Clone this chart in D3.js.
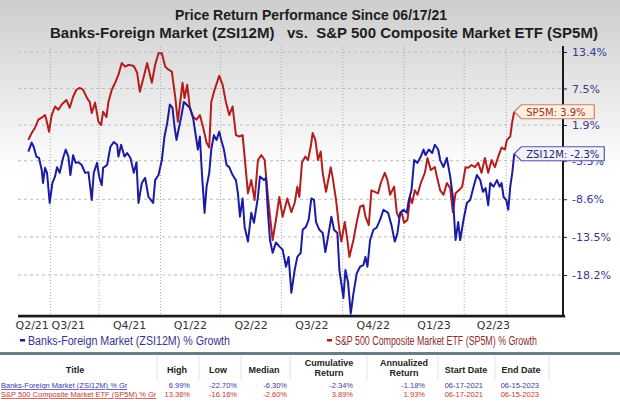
<!DOCTYPE html>
<html>
<head>
<meta charset="utf-8">
<script src="https://cdn.jsdelivr.net/npm/d3@7"></script>
<style>
  body { margin: 0; background: #fff; }
  svg { display: block; }
</style>
</head>
<body>
<div id="chart"></div>
<script>

// ---- data ----
var startDate = "2021-06-17";

// S&P 500 Composite Market ETF (SP5M): days since start, % growth
var spDays = [0,5,10,15,20,25,27,31,35,40,
  45,50,57,62,67,72,77,82,88,92,
  95,100,105,109,112,117,120,125,130,135,
  140,145,150,158,163,167,173,178,185,190,
  195,200,205,210,215,220,224,231,234,238,
  242,247,252,257,262,267,271,274,279,286,
  291,296,301,306,311,316,321,324,329,334,
  339,344,349,354,359,363,366,371,376,381,
  388,394,399,403,406,410,415,419,423,426,
  430,434,438,441,446,453,456,461,466,469,
  474,478,481,487,492,497,502,505,510,514,
  519,524,528,534,538,542,548,552,555,559,
  563,568,572,575,579,583,588,594,598,603,
  609,612,617,622,627,632,636,640,645,650,
  655,659,664,669,674,679,684,689,694,699,
  704,709,714,717,722,725,728];
var spValues = [-0.3,0.7,1.5,2.7,3.0,3.4,2.7,0.9,3.4,4.7,
  4.2,5.0,5.7,4.5,6.2,7.3,7.6,7.3,6.0,5.4,
  3.7,5.3,2.4,1.9,3.9,3.1,5.4,7.3,8.4,9.7,
  11.6,11.0,11.3,11.1,10.0,7.0,9.4,11.6,8.4,11.3,
  13.2,13.2,11.0,10.5,10.2,6.2,2.4,8.4,6.0,8.1,
  4.5,3.1,2.7,3.4,1.5,-0.7,-1.4,5.4,7.3,9.5,
  8.1,5.4,3.4,4.7,0.4,0.2,0.4,-2.7,-7.8,-6.0,
  -8.7,-3.2,-2.5,-3.2,-8.3,-11.6,-13.9,-11.3,-8.3,-10.9,
  -8.5,-10.3,-9.1,-6.9,-8.3,-3.5,-2.7,-3.2,-1.3,0.7,
  -0.3,-3.2,-2.0,-5.0,-7.6,-4.2,-5.7,-8.7,-12.6,-14.1,
  -11.6,-13.9,-16.0,-13.9,-11.6,-9.6,-9.4,-10.9,-12.0,-7.4,
  -7.6,-7.8,-6.4,-5.0,-6.0,-8.0,-6.9,-10.4,-11.0,-10.3,
  -11.7,-11.3,-8.3,-9.1,-7.4,-8.0,-6.4,-5.0,-2.9,-4.6,
  -4.2,-5.5,-7.4,-8.0,-6.4,-7.1,-10.3,-7.8,-7.4,-6.9,
  -4.2,-4.3,-3.9,-4.2,-3.6,-5.0,-2.9,-5.0,-3.2,-4.2,
  -2.7,-1.4,-1.7,-0.3,0.2,2.4,3.9];

// Banks-Foreign Market (ZSI12M): days since start, % growth
var zsDays = [0,5,8,12,16,20,22,25,28,32,
  36,40,43,47,52,56,60,63,67,71,
  75,80,85,90,95,98,103,106,110,112,
  118,123,128,133,135,139,144,148,153,158,
  162,165,170,175,180,187,190,195,200,204,
  208,212,216,219,222,225,229,233,237,242,
  247,251,254,257,260,264,267,271,274,278,
  282,286,289,293,297,301,306,311,314,317,
  321,324,329,334,338,344,347,353,356,359,
  362,366,371,376,381,386,390,394,399,403,
  408,411,416,420,424,428,431,436,441,445,
  449,454,458,463,466,472,475,479,483,487,
  492,497,502,505,508,512,517,522,527,532,
  539,544,549,553,557,562,567,570,574,578,
  583,588,592,595,600,605,609,614,617,622,
  627,632,636,640,644,647,652,657,662,667,
  672,677,681,685,689,692,697,702,706,709,
  712,716,719,722,725,728];
var zsValues = [-2.0,-0.7,-1.3,-2.7,-2.9,-4.6,-6.4,-4.3,-5.0,-9.1,
  -6.4,-5.5,-4.2,-5.0,-2.9,-1.7,-2.7,-5.3,-2.5,-3.6,
  -3.5,-3.9,-5.0,-4.9,-8.7,-5.0,-3.6,-5.5,-6.7,-4.3,
  -3.9,-1.3,-0.6,-1.0,-2.7,-1.0,-2.7,-2.2,-2.9,-5.0,
  -3.5,-9.1,-6.4,-5.7,-8.3,-9.1,-6.0,-5.3,-3.2,0.2,
  2.2,5.0,4.5,1.6,-0.3,1.2,3.1,5.4,5.0,4.5,
  2.9,0.2,-1.7,0.2,-5.0,-10.4,-6.9,-5.0,-1.7,0.4,
  -0.3,0.9,-0.3,-1.7,-3.9,-4.2,-5.3,-6.0,-7.8,-10.9,
  -8.5,-12.2,-14.1,-10.4,-11.7,-8.3,-5.5,-6.0,-5.7,-10.4,
  -13.9,-15.5,-14.2,-14.7,-15.1,-17.2,-16.0,-20.3,-17.6,-16.0,
  -15.5,-12.6,-12.2,-11.3,-8.5,-8.7,-11.6,-12.6,-13.0,-15.4,
  -13.5,-10.9,-12.6,-13.0,-17.6,-20.9,-17.6,-19.1,-22.7,-20.4,
  -18.0,-17.2,-17.0,-16.0,-17.2,-13.9,-12.6,-12.3,-11.3,-10.0,
  -10.4,-12.0,-14.1,-13.0,-10.4,-10.0,-10.4,-8.7,-7.4,-3.2,
  -3.6,-2.7,-1.7,-2.5,-1.7,-2.2,-1.0,-1.7,-3.2,-4.2,
  -2.9,-5.5,-8.3,-13.9,-11.6,-13.9,-11.3,-9.1,-8.7,-6.9,
  -5.3,-6.0,-7.6,-7.1,-9.4,-6.4,-6.9,-6.0,-6.9,-6.4,
  -8.3,-8.7,-10.0,-6.9,-5.0,-2.3];

var yTickValues = [13.4, 7.5, 1.9, -3.3, -8.6, -13.5, -18.2];
var quarterLabels = ["Q2/21","Q3/21","Q4/21","Q1/22","Q2/22","Q3/22","Q4/22","Q1/23","Q2/23"];
var quarterLabelDates = ["2021-06-22","2021-08-15","2021-11-15","2022-02-14","2022-05-16",
  "2022-08-15","2022-11-15","2023-02-14","2023-05-14"];
var gridDates = ["2021-07-20","2021-10-01","2022-01-01","2022-04-01","2022-07-01",
  "2022-10-01","2023-01-01","2023-04-01","2023-06-03"];

var titleLines = ["Price Return Performance Since 06/17/21",
  "Banks-Foreign Market (ZSI12M)   vs.  S&P 500 Composite Market ETF (SP5M)"];
var legendNames = ["Banks-Foreign Market (ZSI12M) % Growth",
  "S&P 500 Composite Market ETF (SP5M) % Growth"];
var endTags = ["ZSI12M", "SP5M"];

var tableColumns = ["Title","High","Low","Median","Cumulative|Return","Annualized|Return","Start Date","End Date"];
var zsRow = ["Banks-Foreign Market (ZSI12M) % Gr","6.99%","-22.70%","-6.30%","-2.34%","-1.18%","06-17-2021","06-15-2023"];
var spRow = ["S&P 500 Composite Market ETF (SP5M) % Gr","13.36%","-16.16%","-2.60%","3.89%","1.93%","06-17-2021","06-15-2023"];

// ---- layout ----
var W = 620, H = 409;
var plot = {left: 18, right: 563, top: 46, bottom: 316};

var parse = d3.timeParse("%Y-%m-%d");
var t0 = parse(startDate);

// percent text with a plain hyphen minus, like the original
function pct(v) {
  var r = Math.round(v * 10) / 10;
  return (r < 0 ? "-" : "") + Math.abs(r).toFixed(1) + "%";
}

var x = d3.scaleTime()
    .domain([parse("2021-06-03"), parse("2023-08-27")])
    .range([19, 563]);
var y = d3.scaleLog()
    .domain([1 + d3.min(yTickValues) / 100, 1 + d3.max(yTickValues) / 100])
    .range([275, 52]);
function yp(v) { return y(1 + v / 100); }

var svg = d3.select("#chart").append("svg")
    .attr("width", W)
    .attr("height", H);

// background gradient
var grad = svg.append("defs").append("linearGradient")
    .attr("id", "bg").attr("x1", 0).attr("y1", 0).attr("x2", 0).attr("y2", 1);
grad.append("stop").attr("offset", "0%").attr("stop-color", "#cdcdcd");
grad.append("stop").attr("offset", "42%").attr("stop-color", "#ffffff");
svg.append("rect").attr("width", W).attr("height", H).attr("fill", "url(#bg)");

// titles
svg.selectAll(".title")
    .data(titleLines)
  .enter().append("text")
    .attr("x", function(d, i) { return i ? 324 : 311; })
    .attr("y", function(d, i) { return i ? 38 : 20; })
    .attr("text-anchor", "middle")
    .attr("textLength", function(d, i) { return i ? 548 : 272; })
    .attr("lengthAdjust", "spacingAndGlyphs")
    .style("font", "bold 15px 'Liberation Sans', Arial, sans-serif")
    .style("fill", "#1e1e1e")
    .style("white-space", "pre")
    .text(function(d) { return d; });

// horizontal grid
svg.append("g").selectAll("line")
    .data(yTickValues)
  .enter().append("line")
    .attr("x1", plot.left).attr("x2", plot.right)
    .attr("y1", function(d) { return yp(d); })
    .attr("y2", function(d) { return yp(d); })
    .attr("stroke", "#bdbdbd")
    .attr("stroke-dasharray", "3,3");

// vertical grid
svg.append("g").selectAll("line")
    .data(gridDates)
  .enter().append("line")
    .attr("x1", function(d) { return x(parse(d)); })
    .attr("x2", function(d) { return x(parse(d)); })
    .attr("y1", plot.top).attr("y2", plot.bottom)
    .attr("stroke", "#aaaaaa")
    .attr("stroke-dasharray", "1,2");

// series
function toPoints(days, vals) {
  return days.map(function(d, i) { return {date: d3.timeDay.offset(t0, d), v: vals[i]}; });
}
var spData = toPoints(spDays, spValues);
var zsData = toPoints(zsDays, zsValues);

var line = d3.line()
    .x(function(d) { return x(d.date); })
    .y(function(d) { return yp(d.v); });

svg.append("path").datum(spData)
    .attr("d", line)
    .attr("fill", "none")
    .attr("stroke", "#b51d1d")
    .attr("stroke-width", 2)
    .attr("stroke-linejoin", "round");
svg.append("path").datum(zsData)
    .attr("d", line)
    .attr("fill", "none")
    .attr("stroke", "#1b1ba6")
    .attr("stroke-width", 2)
    .attr("stroke-linejoin", "round");

// y axis (right)
var yAxis = svg.append("g")
    .attr("transform", "translate(" + plot.right + ",0)")
    .call(d3.axisRight(y)
      .tickValues(yTickValues.map(function(v) { return 1 + v / 100; }))
      .tickFormat(function(d) { return pct((d - 1) * 100); })
      .tickSize(4)
      .tickPadding(5));
yAxis.select(".domain").remove();
yAxis.selectAll("line").attr("stroke", "#222");
yAxis.selectAll("text")
    .style("font", "11px 'DejaVu Sans', sans-serif")
    .style("fill", "#38388f");

// x axis labels
var xAxis = svg.append("g")
    .attr("transform", "translate(0," + plot.bottom + ")")
    .call(d3.axisBottom(x)
      .tickValues(quarterLabelDates.map(parse))
      .tickFormat(function(d, i) { return quarterLabels[i]; })
      .tickSize(0)
      .tickPadding(5));
xAxis.select(".domain").remove();
xAxis.selectAll("text")
    .style("font", "11px 'DejaVu Sans', sans-serif")
    .style("fill", "#333");

// frame lines
svg.append("line")
    .attr("x1", plot.right).attr("x2", plot.right)
    .attr("y1", plot.top).attr("y2", plot.bottom)
    .attr("stroke", "#1a1a1a").attr("stroke-width", 2);
svg.append("line")
    .attr("x1", plot.left).attr("x2", plot.right + 3)
    .attr("y1", plot.bottom + 1).attr("y2", plot.bottom + 1)
    .attr("stroke", "#8a8a8a").attr("stroke-width", 1);
svg.append("line")
    .attr("x1", plot.left).attr("x2", plot.right + 2)
    .attr("y1", plot.bottom).attr("y2", plot.bottom)
    .attr("stroke", "#1a1a1a").attr("stroke-width", 2.5);

// end tags
var tagStyle = [
  {data: zsData, w: 83, fill: "#f3f3fb", stroke: "#5656aa", text: "#23236e"},
  {data: spData, w: 73, fill: "#fcefe0", stroke: "#c9806c", text: "#9e2f22"}
];
tagStyle.forEach(function(t, i) {
  var last = t.data[t.data.length - 1];
  var px = x(last.date), py = yp(last.v);
  var bx = px + 7, h = 14;
  svg.append("path")
      .attr("d", "M" + px + "," + py + "L" + bx + "," + (py - h / 2) + "H" + (bx + t.w) +
        "V" + (py + h / 2) + "H" + bx + "Z")
      .attr("fill", t.fill)
      .attr("stroke", t.stroke)
      .attr("stroke-width", 1.2);
  svg.append("text")
      .attr("x", bx + 5).attr("y", py + 4)
      .style("font", "10px 'DejaVu Sans', sans-serif")
      .style("fill", t.text)
      .text(endTags[i] + ": " + pct(last.v));
});

// legend
var legendX = [20, 327], legendColors = ["#1b1ba6", "#b51d1d"], legendText = ["#35358c", "#8e2b2b"];
legendNames.forEach(function(name, i) {
  svg.append("rect")
      .attr("x", legendX[i]).attr("y", 339)
      .attr("width", 5).attr("height", 2.5)
      .attr("fill", legendColors[i]);
  svg.append("text")
      .attr("x", legendX[i] + 8).attr("y", 345)
      .attr("textLength", 202)
      .attr("lengthAdjust", "spacingAndGlyphs")
      .style("font", "12px 'Liberation Sans', Arial, sans-serif")
      .style("fill", legendText[i])
      .text(name);
});

// table
svg.append("rect")
    .attr("x", 0).attr("y", 352).attr("width", W).attr("height", 3)
    .attr("fill", "#6c7c86");

var colCenter = [75, 177, 218, 264, 329, 404, 466, 521];
var colEnd = [null, 190, 237, 287, 353, 425, 483, 539];
var sepX = [157, 199, 241, 290, 367, 438, 495, 549];

svg.append("g").selectAll("line")
    .data(sepX)
  .enter().append("line")
    .attr("x1", function(d) { return d; }).attr("x2", function(d) { return d; })
    .attr("y1", 356).attr("y2", 380)
    .attr("stroke", "#e2e2e2");

tableColumns.forEach(function(c, i) {
  var parts = c.split("|");
  parts.forEach(function(p, j) {
    svg.append("text")
        .attr("x", colCenter[i])
        .attr("y", parts.length > 1 ? 366 + j * 10 : 373)
        .attr("text-anchor", "middle")
        .style("font", "bold 9px 'Liberation Sans', Arial, sans-serif")
        .style("fill", "#222")
        .text(p);
  });
});

[zsRow, spRow].forEach(function(row, r) {
  var color = r ? "#c4382c" : "#3a3aaa";
  var ty = 388 + r * 9;
  row.forEach(function(cell, i) {
    var t = svg.append("text")
        .attr("y", ty)
        .style("font", "7.5px 'Liberation Sans', Arial, sans-serif")
        .style("fill", color)
        .text(cell);
    if (i === 0) {
      t.attr("x", 1).style("text-decoration", "underline");
    } else {
      t.attr("x", colEnd[i]).attr("text-anchor", "end");
    }
  });
});

</script>
</body>
</html>
